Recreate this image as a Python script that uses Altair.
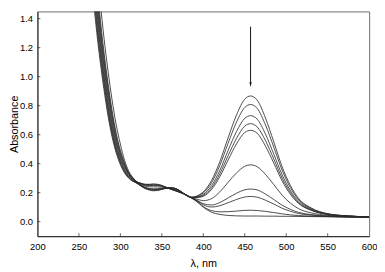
import altair as alt
import pandas as pd

# wavelength grid (nm)
wavelength = [266, 268, 270, 273, 276, 280, 285, 290, 295, 300, 305, 310, 315,
              320, 325, 330, 335, 340, 345, 350, 355, 360, 365, 370, 375, 380,
              385, 390, 395, 400, 410, 420, 430, 440, 450, 457, 465, 475, 485,
              495, 505, 515, 530, 550, 575, 600]

spectrum_01 = [1.62, 1.50, 1.387, 1.23, 1.09, 0.92, 0.734, 0.585, 0.474, 0.394, 0.337, 0.30, 0.279,
               0.265, 0.245, 0.228, 0.218, 0.213, 0.215, 0.222, 0.23, 0.235, 0.232, 0.22, 0.2, 0.18,
               0.168, 0.172, 0.185, 0.205, 0.285, 0.415, 0.58, 0.735, 0.845, 0.867, 0.838, 0.715, 0.55,
               0.38, 0.25, 0.16, 0.095, 0.055, 0.04, 0.033]
spectrum_02 = [1.667, 1.545, 1.429, 1.268, 1.124, 0.95, 0.759, 0.604, 0.488, 0.404, 0.344, 0.304, 0.281,
               0.266, 0.246, 0.230, 0.221, 0.216, 0.218, 0.224, 0.231, 0.234, 0.231, 0.219, 0.200, 0.180,
               0.168, 0.170, 0.181, 0.198, 0.269, 0.389, 0.542, 0.686, 0.788, 0.808, 0.781, 0.667, 0.514,
               0.356, 0.235, 0.151, 0.091, 0.054, 0.039, 0.033]
spectrum_03 = [1.714, 1.59, 1.47, 1.305, 1.158, 0.98, 0.783, 0.623, 0.50, 0.413, 0.35, 0.307, 0.283,
               0.267, 0.248, 0.233, 0.225, 0.221, 0.222, 0.227, 0.231, 0.233, 0.229, 0.218, 0.199, 0.181,
               0.168, 0.168, 0.175, 0.188, 0.249, 0.355, 0.492, 0.621, 0.713, 0.731, 0.707, 0.604, 0.466,
               0.324, 0.215, 0.140, 0.085, 0.052, 0.039, 0.033]
spectrum_04 = [1.761, 1.636, 1.515, 1.344, 1.193, 1.011, 0.81, 0.643, 0.516, 0.425, 0.358, 0.312, 0.286,
               0.267, 0.250, 0.235, 0.227, 0.224, 0.225, 0.228, 0.232, 0.233, 0.228, 0.217, 0.199, 0.181,
               0.168, 0.166, 0.171, 0.181, 0.234, 0.331, 0.456, 0.574, 0.659, 0.676, 0.653, 0.559, 0.432,
               0.301, 0.201, 0.131, 0.081, 0.050, 0.038, 0.032]
spectrum_05 = [1.808, 1.683, 1.56, 1.387, 1.23, 1.045, 0.84, 0.668, 0.535, 0.438, 0.368, 0.319, 0.29,
               0.268, 0.251, 0.237, 0.229, 0.226, 0.227, 0.230, 0.232, 0.232, 0.227, 0.216, 0.199, 0.181,
               0.167, 0.165, 0.168, 0.175, 0.222, 0.311, 0.426, 0.536, 0.615, 0.630, 0.610, 0.521, 0.404,
               0.282, 0.189, 0.125, 0.078, 0.049, 0.038, 0.032]
spectrum_06 = [1.855, 1.729, 1.605, 1.429, 1.268, 1.079, 0.87, 0.693, 0.554, 0.452, 0.378, 0.326, 0.294,
               0.271, 0.257, 0.245, 0.241, 0.240, 0.240, 0.238, 0.235, 0.229, 0.222, 0.211, 0.197, 0.182,
               0.167, 0.158, 0.151, 0.145, 0.159, 0.206, 0.272, 0.336, 0.382, 0.392, 0.379, 0.326, 0.256,
               0.183, 0.128, 0.089, 0.061, 0.043, 0.035, 0.031]
spectrum_07 = [1.90, 1.776, 1.65, 1.472, 1.305, 1.113, 0.90, 0.718, 0.573, 0.465, 0.388, 0.333, 0.298,
               0.273, 0.261, 0.251, 0.249, 0.249, 0.248, 0.244, 0.236, 0.227, 0.219, 0.208, 0.196, 0.182,
               0.167, 0.153, 0.139, 0.124, 0.115, 0.132, 0.164, 0.196, 0.220, 0.225, 0.219, 0.190, 0.153,
               0.114, 0.085, 0.064, 0.049, 0.039, 0.034, 0.031]
spectrum_08 = [1.95, 1.823, 1.698, 1.515, 1.344, 1.146, 0.93, 0.742, 0.591, 0.479, 0.397, 0.335, 0.299,
               0.273, 0.262, 0.253, 0.252, 0.252, 0.251, 0.245, 0.237, 0.227, 0.218, 0.207, 0.196, 0.183,
               0.166, 0.152, 0.135, 0.117, 0.101, 0.110, 0.131, 0.153, 0.170, 0.174, 0.169, 0.148, 0.122,
               0.093, 0.072, 0.056, 0.045, 0.037, 0.033, 0.031]
spectrum_09 = [2.0, 1.87, 1.745, 1.56, 1.387, 1.18, 0.96, 0.767, 0.61, 0.492, 0.407, 0.337, 0.30,
               0.275, 0.264, 0.257, 0.256, 0.258, 0.256, 0.249, 0.238, 0.226, 0.216, 0.206, 0.195, 0.183,
               0.166, 0.149, 0.128, 0.105, 0.076, 0.068, 0.069, 0.073, 0.078, 0.079, 0.077, 0.071, 0.063,
               0.054, 0.047, 0.042, 0.038, 0.035, 0.032, 0.030]
spectrum_10 = [2.12, 2.0, 1.87, 1.683, 1.50, 1.28, 1.045, 0.84, 0.668, 0.535, 0.425, 0.35, 0.305,
               0.275, 0.265, 0.258, 0.258, 0.26, 0.258, 0.25, 0.238, 0.225, 0.215, 0.205, 0.195, 0.183,
               0.166, 0.148, 0.125, 0.10, 0.065, 0.05, 0.043, 0.04, 0.039, 0.039, 0.039, 0.038, 0.038,
               0.037, 0.037, 0.036, 0.035, 0.034, 0.032, 0.03]

spectra = [spectrum_01, spectrum_02, spectrum_03, spectrum_04, spectrum_05,
           spectrum_06, spectrum_07, spectrum_08, spectrum_09, spectrum_10]

# axis ticks
x_tick_labels = [200, 250, 300, 350, 400, 450, 500, 550, 600]
x_inner_ticks = [250, 300, 350, 400, 450, 500, 550]
y_tick_labels = [0.0, 0.2, 0.4, 0.6, 0.8, 1.0, 1.2, 1.4]

# arrow annotation (wavelength, top, head centre)
arrow_wl = [457]
arrow_top = [1.345]
arrow_head = [0.945]

rows = []
for i, s in enumerate(spectra):
    for w, a in zip(wavelength, s):
        rows.append({"wl": w, "A": a, "curve": i})
df = pd.DataFrame(rows)

PLOT_W, PLOT_H = 338, 229

x_enc = alt.X("wl:Q",
              scale=alt.Scale(domain=[200, 600], nice=False, zero=False),
              axis=alt.Axis(values=x_tick_labels, title="λ, nm", labelFlush=False))
y_enc = alt.Y("A:Q",
              scale=alt.Scale(domain=[-0.1, 1.45], nice=False, zero=False),
              axis=alt.Axis(values=y_tick_labels, format=".1f", title="Absorbance"))

lines = alt.Chart(df).mark_line(
    clip=True, interpolate="monotone", strokeWidth=0.85, color="#2b2b2b"
).encode(x=x_enc, y=y_enc, detail="curve:N")

arrow_df = pd.DataFrame({"wl": arrow_wl, "A": arrow_top, "A2": arrow_head})
arrow = alt.Chart(arrow_df).mark_rule(color="#111", strokeWidth=1).encode(
    x=x_enc, y=y_enc, y2="A2:Q")

head_df = pd.DataFrame({"wl": arrow_wl, "A": arrow_head})
head = alt.Chart(head_df).mark_point(
    shape="M-0.45,-1L0.45,-1L0,1Z", filled=True, size=25, color="#111",
    opacity=1, strokeWidth=0
).encode(x=x_enc, y=y_enc)

xt = alt.Chart(pd.DataFrame({"wl": x_inner_ticks})).mark_tick(
    orient="vertical", size=3, thickness=1, color="#222"
).encode(x=x_enc, y=alt.value(PLOT_H - 1.5))

yt = alt.Chart(pd.DataFrame({"A": y_tick_labels})).mark_tick(
    orient="horizontal", size=3, thickness=1, color="#222"
).encode(y=y_enc, x=alt.value(1.5))

chart = alt.layer(lines, arrow, head, xt, yt).properties(
    width=PLOT_W, height=PLOT_H,
    autosize=alt.AutoSizeParams(type="none"),
    padding={"left": 30, "top": 1, "right": 8, "bottom": 34},
).configure_view(
    stroke="#6e6e6e", strokeWidth=1
).configure_axis(
    grid=False, ticks=False, tickSize=0, domainColor="#222",
    labelFont="Liberation Sans", titleFont="Liberation Sans",
    labelFontSize=9.6, titleFontSize=11, labelColor="#000", titleColor="#000",
    titleFontWeight="normal"
).configure_axisX(
    labelPadding=6, titlePadding=6
).configure_axisY(
    labelPadding=5, titlePadding=0
)

chart.save("out.html", embed_options={"renderer": "svg", "actions": False})
